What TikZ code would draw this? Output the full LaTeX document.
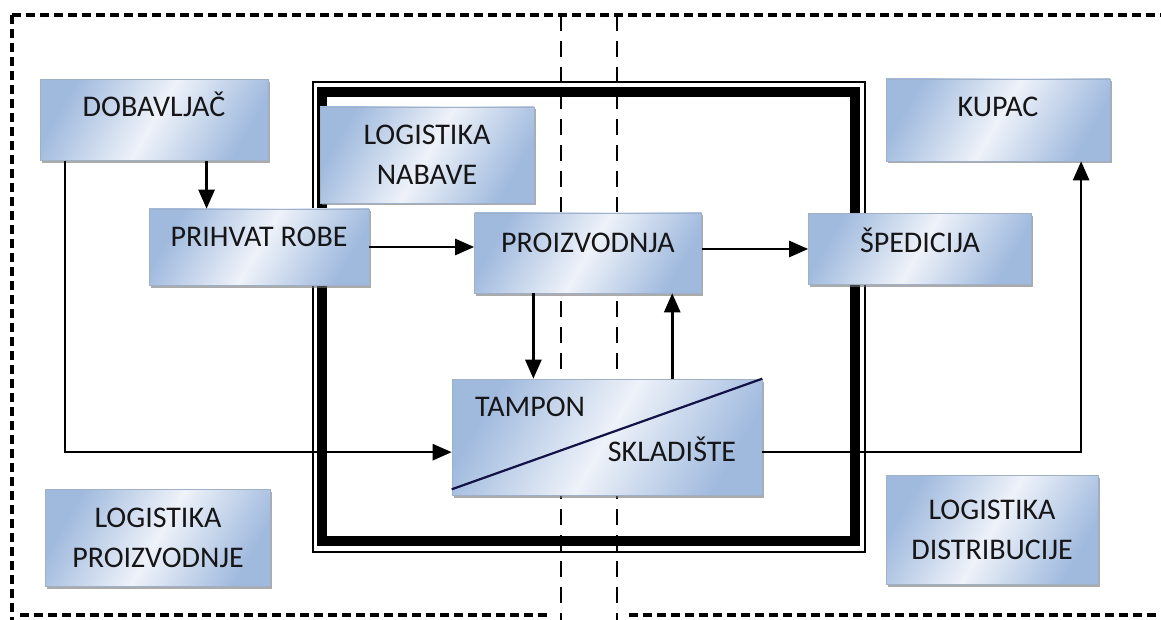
\documentclass[tikz,border=0pt]{standalone}
\usepackage{fontspec}
\setmainfont{Carlito}
\usetikzlibrary{arrows.meta}
\usetikzlibrary{calc}
\usetikzlibrary{shadows}
\definecolor{boxdark}{RGB}{160,186,222}
\definecolor{boxlight}{RGB}{238,242,249}
\definecolor{boxedge}{RGB}{160,176,200}
\definecolor{inktext}{RGB}{22,22,24}

\begin{document}
\begin{tikzpicture}[x=1pt,y=-1pt,
  block/.style={rectangle,draw=boxedge,line width=0.6pt,left color=boxdark,right color=boxdark,middle color=boxlight,shading angle=60,
    drop shadow={shadow xshift=1.5pt,shadow yshift=-2.5pt,fill=black!55,opacity=.6},
    text=inktext,font=\fontsize{30}{40}\selectfont,align=center,inner sep=0pt},
  word/.style={text=inktext,font=\fontsize{30}{40}\selectfont,inner sep=0pt},
  flow/.style={line width=2.6pt,-{Triangle[length=19pt,width=16pt]}},
  fence/.style={line width=3.6pt,dash pattern=on 9pt off 5pt},
  divider/.style={line width=2.6pt,dash pattern=on 16pt off 10pt}]
\useasboundingbox (0,0) rectangle (1161,620);

% dashed borders and the two dividers
\draw[fence] (12,15) -- (12,620);
\draw[fence] (12,15) -- (1161,15);
\draw[fence] (20,615) -- (551,615);
\draw[fence] (629,615) -- (1161,615);
\draw[divider] (561,15) -- (561,620);
\draw[divider] (617,15) -- (617,620);

% double frame
\draw[line width=1.8pt] (313,82) rectangle (865,552);
\draw[line width=9.5pt] (322,92) rectangle (855,541);

\node at ( 154, 120) (dob)   [block,minimum width=228pt,minimum height=81pt,text height=19pt,text depth=25pt] {DOBAVLJAČ};
\node at ( 427, 155) (nab)   [block,minimum width=214pt,minimum height=96pt] {LOGISTIKA\\NABAVE};
\node at ( 259, 247) (prih)  [block,minimum width=220pt,minimum height=76pt,text height=19pt,text depth=19pt] {PRIHVAT ROBE};
\node at ( 588, 253) (proiz) [block,minimum width=227pt,minimum height=80pt,text height=19pt,text depth=21pt] {PROIZVODNJA};
\node at ( 920, 249) (sped)  [block,minimum width=223pt,minimum height=71pt,text height=19pt,text depth=12pt] {ŠPEDICIJA};
\node at ( 998, 120) (kupac) [block,minimum width=224pt,minimum height=82pt,text height=19pt,text depth=25pt] {KUPAC};
\node at ( 607, 437) (tamp)  [block,minimum width=310pt,minimum height=116pt] {};
\node at ( 158, 538) (lproiz) [block,minimum width=225pt,minimum height=97pt] {LOGISTIKA\\PROIZVODNJE};
\node at ( 992, 530) (ldist) [block,minimum width=212pt,minimum height=109pt] {LOGISTIKA\\DISTRIBUCIJE};
\draw[line width=2.2pt,draw=inktext!80!blue] ([yshift=6pt]tamp.south west) -- (tamp.north east);
\node at ( 530, 407) (tampT) [word] {TAMPON};
\node at ( 672, 449) (sklT)  [word] {SKLADIŠTE};

\draw [flow] ($(dob.south west)!.73!(dob.south east)$) coordinate (d1) -- (d1 |- prih.north);
\draw [flow] ($(dob.south west)!.11!(dob.south east)$) coordinate (d2)
   |- ($(tamp.north west)!.63!(tamp.south west)$) coordinate (t1);
\draw [flow] (prih.east) -- (prih.east -| proiz.west);
\draw [flow] (sped.west -| proiz.east) -- (sped.west);
\draw [flow] ($(proiz.south west)!.26!(proiz.south east)$) coordinate (p1) -- (p1 |- tamp.north);
\draw [flow] ($(tamp.north west)!.71!(tamp.north east)$) coordinate (t2) -- (t2 |- proiz.south);
\draw [flow] (t1 -| tamp.east) -| ($(kupac.south west)!.87!(kupac.south east)$);
\end{tikzpicture}
\end{document}
